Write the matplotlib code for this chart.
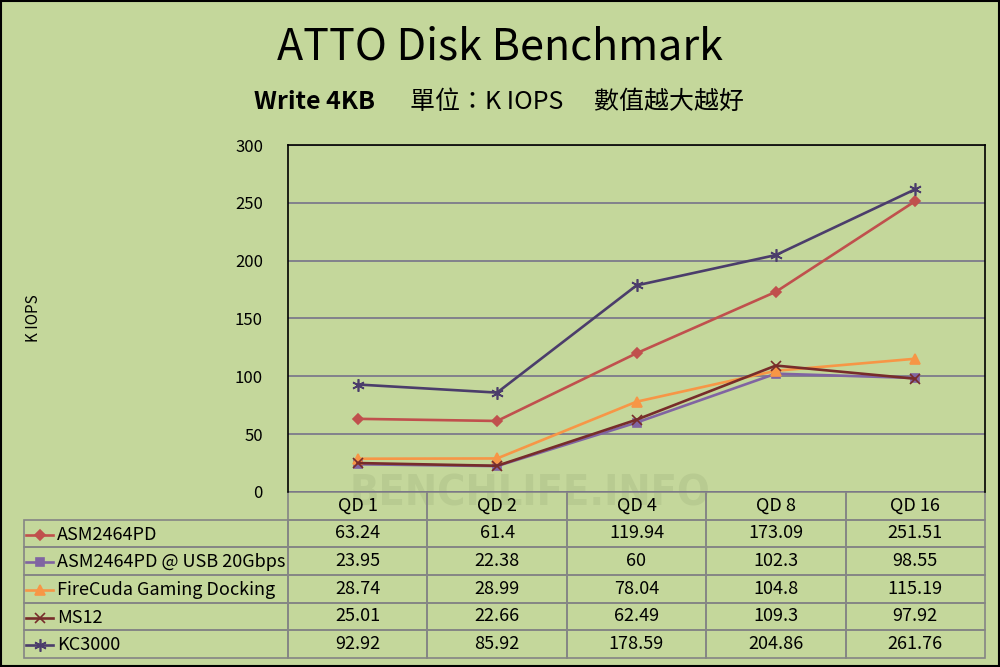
import matplotlib
matplotlib.use("Agg")
import matplotlib.pyplot as plt
from matplotlib.lines import Line2D
from matplotlib.patches import Rectangle

plt.rcParams['font.family'] = ['Noto Sans CJK TC', 'DejaVu Sans']

# 資料
categories = ['QD 1', 'QD 2', 'QD 4', 'QD 8', 'QD 16']
series_names = ['ASM2464PD', 'ASM2464PD @ USB 20Gbps', 'FireCuda Gaming Docking', 'MS12', 'KC3000']
asm2464pd = [63.24, 61.4, 119.94, 173.09, 251.51]
asm2464pd_usb20 = [23.95, 22.38, 60, 102.3, 98.55]
firecuda = [28.74, 28.99, 78.04, 104.8, 115.19]
ms12 = [25.01, 22.66, 62.49, 109.3, 97.92]
kc3000 = [92.92, 85.92, 178.59, 204.86, 261.76]
yticks = [0, 50, 100, 150, 200, 250, 300]

series_values = [asm2464pd, asm2464pd_usb20, firecuda, ms12, kc3000]
colors = ['#c0504d', '#8064a2', '#f79646', '#772c2a', '#4b3d6b']
markers = ['D', 's', '^', 'x', (6, 2, 0)]
msizes = [5, 6, 7, 7, 9]

bg = '#c4d79b'
grid_c = '#77738a'
edge_c = '#858585'

fig = plt.figure(figsize=(10, 6.67), dpi=100)
fig.patch.set_facecolor(bg)

# 浮水印
fig.text(0.53, 1 - 493 / 667, 'BENCHLIFE.INFO', ha='center', va='center',
         fontsize=31, color='#b8cb91', family='DejaVu Sans', fontstretch='condensed',
         fontweight='bold', zorder=-5)

ax = fig.add_axes([0.288, 0.2624, 0.697, 0.5202])
ax.set_facecolor('none')

x = list(range(len(categories)))
for vals, c, m, ms in zip(series_values, colors, markers, msizes):
    ax.plot(x, vals, color=c, lw=1.9, marker=m, ms=ms, mew=1.2,
            markerfacecolor=c, markeredgecolor=c, zorder=3)

ax.set_xlim(-0.5, len(categories) - 0.5)
ax.set_ylim(0, 300)
ax.set_yticks(yticks)
ax.set_xticks([])
ax.tick_params(axis='y', length=0, labelsize=12, pad=18)
ax.yaxis.grid(True, color=grid_c, lw=1.2)
ax.set_axisbelow(True)
for s in ax.spines.values():
    s.set_color('black')
    s.set_linewidth(1.2)
ax.spines['bottom'].set_visible(False)

fig.text(0.033, 1 - 318 / 667, 'K IOPS', rotation=90, ha='center', va='center', fontsize=11)

# 表格
cell_text = [[''] + [f'{v:g}' for v in vals] for vals in series_values]
tbl = ax.table(cellText=cell_text, colLabels=[''] + categories,
               colWidths=[264] + [139.4] * len(categories),
               cellLoc='center', bbox=[-0.3788, -0.4784, 1.3788, 0.4784])
tbl.auto_set_font_size(False)
for (r, c), cell in tbl.get_celld().items():
    cell.set_facecolor('none')
    cell.set_edgecolor(edge_c)
    cell.set_linewidth(1.2)
    cell.get_text().set_fontsize(13)
    if r == 0 and c == 0:
        cell.visible_edges = ''

# 表格列標籤與圖例符號
row_top = 520
row_h = 27.6
for i, (name, c, m, ms) in enumerate(zip(series_names, colors, markers, msizes)):
    yc = 1 - (row_top + row_h * (i + 0.5) + 1) / 667
    fig.add_artist(Line2D([0.026, 0.053], [yc, yc], transform=fig.transFigure,
                          color=c, lw=1.9))
    fig.add_artist(Line2D([0.0395], [yc], transform=fig.transFigure, color=c,
                          marker=m, ms=ms, mew=1.2, markerfacecolor=c, markeredgecolor=c))
    fig.text(0.057, yc, name, ha='left', va='center', fontsize=13)

# 標題
fig.text(0.5, 1 - 47 / 667, 'ATTO Disk Benchmark', ha='center', va='center', fontsize=31)
fig.text(0.254, 1 - 102 / 667, 'Write 4KB', ha='left', va='center', fontsize=18, fontweight='bold')
fig.text(0.410, 1 - 102 / 667, '單位：K IOPS　 數值越大越好', ha='left', va='center', fontsize=18)

fig.add_artist(Rectangle((0.001, 0.0015), 0.998, 0.997, transform=fig.transFigure,
                         fill=False, edgecolor='black', lw=1.5))

fig.savefig('out.png', dpi=100, facecolor=bg)
